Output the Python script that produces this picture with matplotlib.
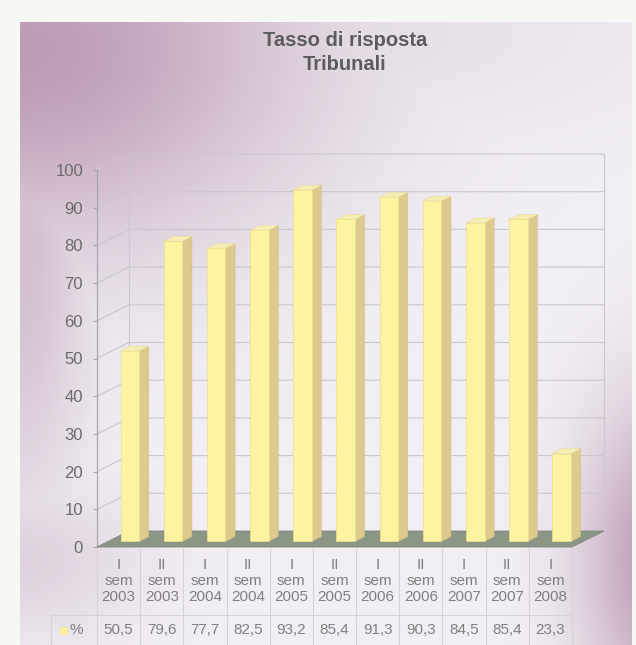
import numpy as np
import matplotlib
matplotlib.use("Agg")
import matplotlib.pyplot as plt
from matplotlib.patches import Polygon
from matplotlib.transforms import blended_transform_factory

# ---------------- data ----------------
periods = ["I", "II", "I", "II", "I", "II", "I", "II", "I", "II", "I"]
years = ["2003", "2003", "2004", "2004", "2005", "2005", "2006", "2006", "2007", "2007", "2008"]
values = [50.5, 79.6, 77.7, 82.5, 93.2, 85.4, 91.3, 90.3, 84.5, 85.4, 23.3]
yticks = list(range(0, 101, 10))
series_name = "%"
title_lines = ["Tasso di risposta", "Tribunali"]

plt.rcParams['font.family'] = ['Liberation Sans', 'DejaVu Sans']

W, H = 636, 645
fig = plt.figure(figsize=(W / 100, H / 100), dpi=100)

# ---------------- background gradient ----------------
X, Y = np.meshgrid(np.arange(W), np.arange(H))
base = np.array([242, 240, 245]) / 255.0
mauve = np.array([180, 142, 170]) / 255.0
w1 = np.exp(-(((X - 20) / 290.0) ** 2 + ((Y - 50) / 200.0) ** 2))
w2 = np.exp(-(((X - 660) / 80.0) ** 2 + ((Y - 560) / 160.0) ** 2))
w3 = 0.5 * np.exp(-((X - 20) / 70.0) ** 2) * np.exp(-((Y - 250) / 260.0) ** 2)
w4 = 0.3 * np.exp(-(((X - 20) / 120.0) ** 2 + ((Y - 560) / 80.0) ** 2))
w5 = 0.35 * np.exp(-((Y - 30) / 110.0) ** 2) * (1 - 0.8 * X / W)
w = np.clip(np.maximum.reduce([w1 * 0.85, w2 * 0.85, w3, w4, w5]), 0, 1)
img = base[None, None, :] * (1 - w[..., None]) + mauve[None, None, :] * w[..., None]
outside = (X < 20) | (Y < 22) | (X > 631)
img[outside] = np.array([246, 248, 244]) / 255.0

bg = fig.add_axes([0, 0, 1, 1], zorder=0)
bg.imshow(img, aspect='auto', extent=[0, 1, 0, 1], interpolation='bilinear')
bg.axis('off')

# ---------------- main axes ----------------
x_left, x_right, y_zero, y_top = 97, 572, 547, 170
ax = fig.add_axes([x_left / W, 1 - y_zero / H, (x_right - x_left) / W, (y_zero - y_top) / H], zorder=1)
ax.set_facecolor('none')
n = len(values)
ax.set_xlim(0, n)
ax.set_ylim(0, 100)
for s in ax.spines.values():
    s.set_visible(False)
ax.set_xticks([])
ax.set_yticks(yticks)
ax.set_yticklabels([str(t) for t in yticks])
ax.tick_params(axis='y', length=3, width=0.8, color='#a8a6ae', pad=7, labelsize=12, labelcolor='#6a6a6a')

# depth vector (data units): 32 px right, 16 px up
px_per_x = (x_right - x_left) / n
px_per_y = (y_zero - y_top) / 100.0
DX = 32 / px_per_x
DY = 16 / px_per_y

grid_col = '#cac7d0'
# floor
floor = Polygon([(0, 0), (n, 0), (n + DX, DY), (DX, DY)], closed=True,
                facecolor='#8c9686', edgecolor='#7d8778', lw=0.6, clip_on=False, zorder=2)
ax.add_patch(floor)
# gridlines on side and back walls
for t in yticks:
    if t == 0:
        continue
    ax.plot([0, DX, n + DX], [t, t + DY, t + DY], color=grid_col, lw=0.8, clip_on=False, zorder=1)
ax.plot([DX, DX], [DY, 100 + DY], color=grid_col, lw=0.8, clip_on=False, zorder=1)
ax.plot([n + DX, n + DX], [DY, 100 + DY], color=grid_col, lw=0.8, clip_on=False, zorder=1)
ax.plot([0, 0], [0, 100], color='#a8a6ae', lw=0.9, clip_on=False, zorder=1)

# bars (pseudo 3D)
f_front = 0.35
f_depth = 0.3
bw = 0.43
centers = np.arange(n) + 0.5 + f_front * DX
ax.bar(centers, values, width=bw, bottom=f_front * DY, color='#fdf4a2',
       edgecolor='#efe08a', linewidth=0.5, zorder=4, clip_on=False)
bx, by = f_depth * DX, f_depth * DY
for c, v in zip(centers, values):
    x0 = c - bw / 2
    x1 = c + bw / 2
    y0 = f_front * DY
    y1 = y0 + v
    side = Polygon([(x1, y0), (x1 + bx, y0 + by), (x1 + bx, y1 + by), (x1, y1)], closed=True,
                   facecolor='#dccb8c', edgecolor='#d0be80', lw=0.4, clip_on=False, zorder=3)
    top = Polygon([(x0, y1), (x1, y1), (x1 + bx, y1 + by), (x0 + bx, y1 + by)], closed=True,
                  facecolor='#f5edb4', edgecolor='#e8dc98', lw=0.4, clip_on=False, zorder=3)
    ax.add_patch(side)
    ax.add_patch(top)

# ---------------- title ----------------
fig.text(345 / W, 1 - 41 / H, title_lines[0], ha='center', va='center',
         fontsize=14.5, fontweight='bold', color='#5c5c5c')
fig.text(345 / W, 1 - 65 / H, title_lines[1], ha='center', va='center',
         fontsize=14.5, fontweight='bold', color='#5c5c5c')

# ---------------- data table ----------------
tr = blended_transform_factory(ax.transData, fig.transFigure)
fy = lambda py: 1 - py / H
line_col = '#d4d2d8'
for i in range(n + 1):
    ax.plot([i, i], [fy(549), fy(645)], transform=tr, color=line_col, lw=0.8, clip_on=False)
ax.plot([0, n], [fy(615), fy(615)], transform=tr, color=line_col, lw=0.8, clip_on=False)
fig.add_artist(plt.Line2D([51 / W, x_left / W], [fy(615), fy(615)], color=line_col, lw=0.8))
fig.add_artist(plt.Line2D([51 / W, 51 / W], [fy(615), fy(645)], color=line_col, lw=0.8))

for i in range(n):
    ax.text(i + 0.5, fy(581), f"{periods[i]}\nsem\n{years[i]}", transform=tr, ha='center', va='center',
            fontsize=11, color='#808080', linespacing=1.22)
    ax.text(i + 0.5, fy(630), f"{values[i]:.1f}".replace('.', ','), transform=tr, ha='center',
            va='center', fontsize=11, color='#808080')

# legend key
fig.patches.append(plt.Rectangle((60 / W, fy(634)), 7 / W, 7 / H, transform=fig.transFigure,
                                 facecolor='#fcf29c', edgecolor='#efe08a', lw=0.5))
fig.text(70 / W, fy(630), series_name, ha='left', va='center', fontsize=11, color='#808080')

fig.savefig('out.png', dpi=100)
